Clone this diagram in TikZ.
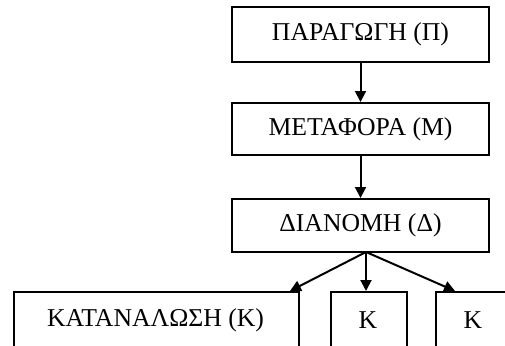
\documentclass[tikz,border=0pt]{standalone}
\usepackage{fontspec}
\setmainfont{Liberation Serif}
\usetikzlibrary{arrows.meta}
\tikzset{
  lbl/.style={font=\fontsize{25.7}{30}\selectfont},
  box/.style={draw=black, line width=2pt, rectangle, inner sep=0pt, lbl},
  link/.style={line width=2pt, -{Triangle[length=11pt,width=11pt]}}
}
\begin{document}
\begin{tikzpicture}[x=1pt,y=-1pt]
\useasboundingbox (0,0) rectangle (505,345);
\clip (0,0) rectangle (505,345);
\node[box, minimum width=257pt, minimum height=55pt] (p) at (360.5,34.5) {ΠΑΡΑΓΩΓΗ (Π)};
\node[box, minimum width=257pt, minimum height=52pt] (m) at (360.5,129) {ΜΕΤΑΦΟΡΑ (Μ)};
\node[box, minimum width=257pt, minimum height=53pt] (d) at (360.5,225.5) {ΔΙΑΝΟΜΗ (Δ)};
\node[box, minimum width=285pt, minimum height=90pt, anchor=north west] (k1) at (13,291) {};
\node[lbl] at (155.5,320) (k1t) {ΚΑΤΑΝΑΛΩΣΗ (Κ)};
\node[box, minimum width=76pt, minimum height=90pt, anchor=north west] (k2) at (330,291) {};
\node[lbl] at (368,320) (k2t) {Κ};
\node[box, minimum width=110pt, minimum height=90pt, anchor=north west] (k3) at (435,291) {};
\node[lbl] at (473,320) (k3t) {Κ};
\coordinate (ds) at (366,252);
\coordinate (t1) at (290,291);
\coordinate (t2) at (366,291);
\coordinate (t3) at (455,291);
\draw[link] (p.south) -- (m.north);
\draw[link] (m.south) -- (d.north);
\draw[link] (ds) -- (t1);
\draw[link] (ds) -- (t2);
\draw[link] (ds) -- (t3);
\end{tikzpicture}
\end{document}
